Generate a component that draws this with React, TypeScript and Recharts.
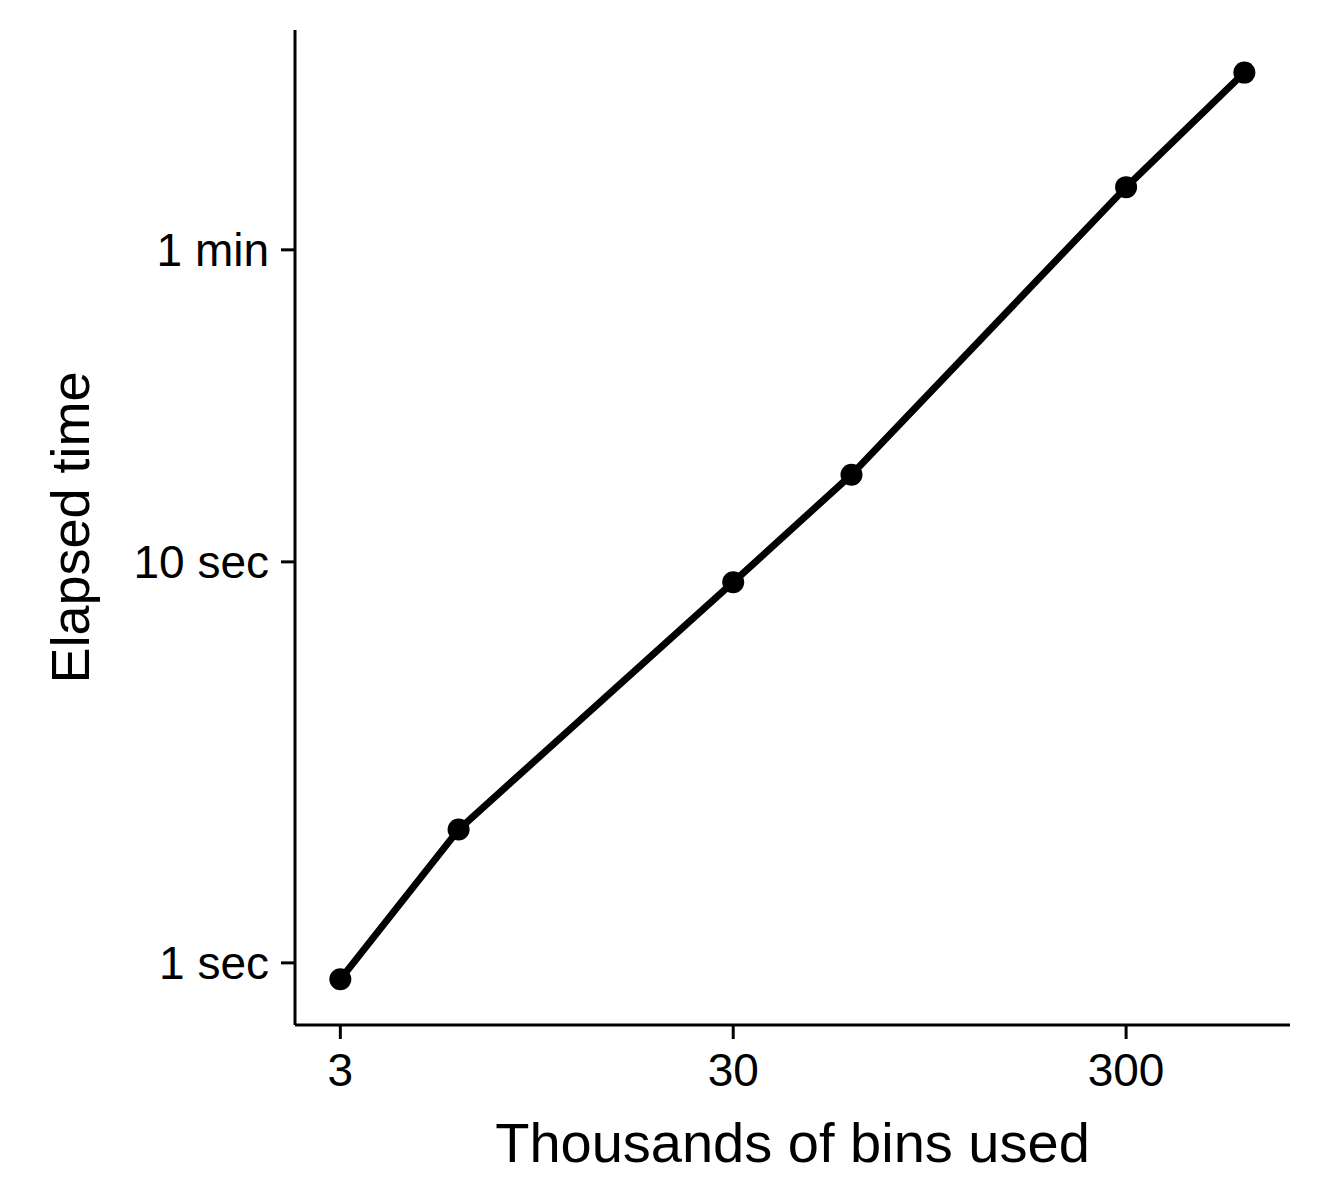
import { LineChart, Line, XAxis, YAxis, Label } from 'recharts'

const bins = [3, 6, 30, 60, 300, 600]
const seconds = [0.91, 2.15, 8.9, 16.5, 86, 166]
const xTicks = [3, 30, 300]
const yTicks = [1, 10, 60]
const yTickLabels: Record<number, string> = { 1: '1 sec', 10: '10 sec', 60: '1 min' }

const data = bins.map((b, i) => ({ bins: b, seconds: seconds[i] }))

const font = '"Liberation Sans", Arial, sans-serif'
const tick = { fill: '#000', fontSize: 46, fontFamily: font }

export default function App() {
  return (
    <div style={{ margin: -8, background: '#fff' }}>
      <LineChart width={1320} height={1200} data={data} margin={{ top: 30, right: 30, left: 0, bottom: 0 }}>
        <XAxis
          dataKey="bins"
          type="number"
          scale="log"
          domain={[2.3, 784]}
          allowDataOverflow
          ticks={xTicks}
          tick={tick}
          tickSize={14}
          tickMargin={14}
          stroke="#000"
          strokeWidth={3}
          height={175}
        >
          <Label value="Thousands of bins used" position="insideBottom" offset={38} style={{ fontSize: 56, fontFamily: font, fill: '#000' }} />
        </XAxis>
        <YAxis
          dataKey="seconds"
          type="number"
          scale="log"
          domain={[0.7, 212]}
          allowDataOverflow
          ticks={yTicks}
          tickFormatter={(v: number) => yTickLabels[v] ?? String(v)}
          tick={tick}
          tickSize={14}
          tickMargin={12}
          stroke="#000"
          strokeWidth={3}
          width={295}
        >
          <Label value="Elapsed time" angle={-90} position="insideLeft" offset={70} style={{ fontSize: 54, fontFamily: font, fill: '#000', textAnchor: 'middle' }} />
        </YAxis>
        <Line
          dataKey="seconds"
          stroke="#000"
          strokeWidth={7}
          dot={{ r: 11, fill: '#000', stroke: '#000', strokeWidth: 0 }}
          isAnimationActive={false}
        />
      </LineChart>
    </div>
  )
}
